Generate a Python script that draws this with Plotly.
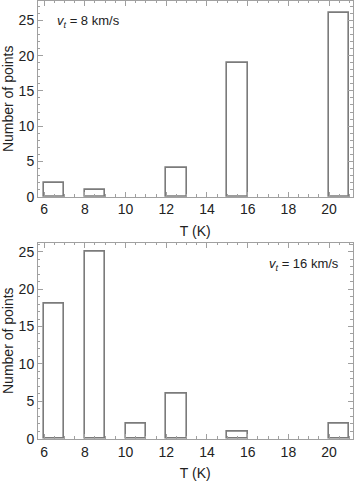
import plotly.graph_objects as go

bins_8 = [6, 8, 12, 15, 20]
counts_8 = [2, 1, 4, 19, 26]

bins_16 = [6, 8, 10, 12, 15, 20]
counts_16 = [18, 25, 2, 6, 1, 2]

x_ticks = [6, 8, 10, 12, 14, 16, 18, 20]
y_ticks = [0, 5, 10, 15, 20, 25]

FONT = "Liberation Sans, Arial, sans-serif"
BAR_LINE = "#7b7b7b"
FRAME = "#a0a0a0"

fig = go.Figure()

fig.add_trace(go.Bar(
    x=bins_8, y=counts_8, width=1, offset=0,
    marker=dict(color="white", line=dict(color=BAR_LINE, width=1.6)),
    xaxis="x", yaxis="y", showlegend=False,
))
fig.add_trace(go.Bar(
    x=bins_16, y=counts_16, width=1, offset=0,
    marker=dict(color="white", line=dict(color=BAR_LINE, width=1.6)),
    xaxis="x2", yaxis="y2", showlegend=False,
))

xaxis_common = dict(
    range=[5.7, 21.15], tickvals=x_ticks, showgrid=False, zeroline=False,
    showline=True, linecolor=FRAME, linewidth=1, mirror="allticks",
    ticks="inside", ticklen=5, tickcolor=FRAME, tickwidth=1,
    minor=dict(dtick=0.5, ticks="inside", ticklen=2.5, tickcolor=FRAME, tickwidth=1),
    tickfont=dict(family=FONT, size=14, color="#222"),
    title=dict(text="T (K)", font=dict(family=FONT, size=14, color="#222"), standoff=9),
    domain=[0.107, 0.993], automargin=False,
)
yaxis_common = dict(
    tickvals=y_ticks, showgrid=False, zeroline=False,
    showline=True, linecolor=FRAME, linewidth=1, mirror="allticks",
    ticks="inside", ticklen=5, tickcolor=FRAME, tickwidth=1,
    minor=dict(dtick=1, ticks="inside", ticklen=2.5, tickcolor=FRAME, tickwidth=1),
    tickfont=dict(family=FONT, size=14, color="#222"),
    title=dict(text="Number of points", font=dict(family=FONT, size=14, color="#222"), standoff=4),
    automargin=False,
)

fig.update_layout(
    width=355, height=482,
    margin=dict(l=0, r=0, t=0, b=0),
    plot_bgcolor="white", paper_bgcolor="white",
    bargap=0,
    xaxis=dict(xaxis_common, anchor="y"),
    yaxis=dict(yaxis_common, range=[0, 27.75], domain=[0.592, 0.998], anchor="x"),
    xaxis2=dict(xaxis_common, anchor="y2"),
    yaxis2=dict(yaxis_common, range=[0, 26.2], domain=[0.0898, 0.4965], anchor="x2"),
)

fig.add_annotation(
    text="<i>v</i><sub><i>t</i></sub> = 8 km/s", xref="x", yref="y",
    x=6.55, y=24.8, xanchor="left", yanchor="middle", showarrow=False,
    font=dict(family=FONT, size=13, color="#222"),
)
fig.add_annotation(
    text="<i>v</i><sub><i>t</i></sub> = 16 km/s", xref="x2", yref="y2",
    x=20.6, y=23.3, xanchor="right", yanchor="middle", showarrow=False,
    font=dict(family=FONT, size=13, color="#222"),
)

# sin margen del body para que la figura ocupe toda la ventana
fig.write_html(
    "out.html",
    config={"displayModeBar": False},
    post_script="document.body.style.margin='0';document.body.style.overflow='hidden';",
)
